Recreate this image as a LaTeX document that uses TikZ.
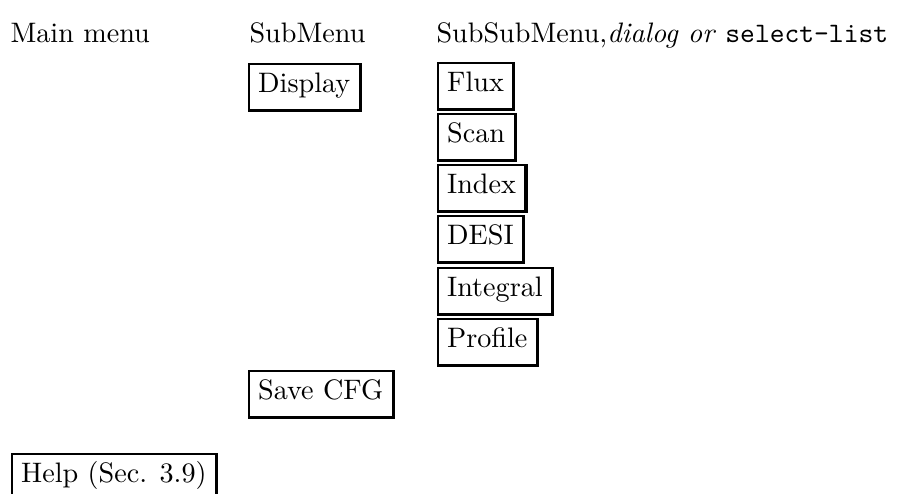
\documentclass[tikz,border=0pt]{standalone}
\begin{document}
\begin{tikzpicture}[x=0.355pt,y=-0.355pt,
  menubox/.style={draw,line width=0.6pt,anchor=north west,inner ysep=0pt,inner xsep=3.3pt,
    text height=10.3pt,text depth=6pt,font=\fontsize{10}{12}\selectfont},
  hdr/.style={anchor=base west,inner sep=0pt,font=\fontsize{10}{12}\selectfont}]
\useasboundingbox (0,0) rectangle (903,493);
\node[hdr] (h1) at (10,42) {Main menu};
\node[hdr] (h2) at (249,42) {SubMenu};
\node[hdr] (h3) at (436,42) {SubSubMenu,\textit{dialog or} \texttt{select-list}};
\node[menubox] (display) at (248,63) {Display\ };
\node[menubox] (save) at (248,370) {Save CFG\ };
\node[menubox] (flux) at (437,62) {Flux};
\node[menubox] (scan) at (437,113) {Scan};
\node[menubox] (index) at (437,164) {Index};
\node[menubox] (desi) at (437,215) {DESI};
\node[menubox] (integral) at (437,267) {Integral};
\node[menubox] (profile) at (437,318) {Profile};
\node[menubox] (help) at (11,453) {Help (Sec. 3.9)};
\foreach \n in {display,save,flux,scan,index,desi,integral,profile,help}
  \draw[line width=1pt] (\n.north east) -- (\n.south east) -- (\n.south west);
\end{tikzpicture}
\end{document}
